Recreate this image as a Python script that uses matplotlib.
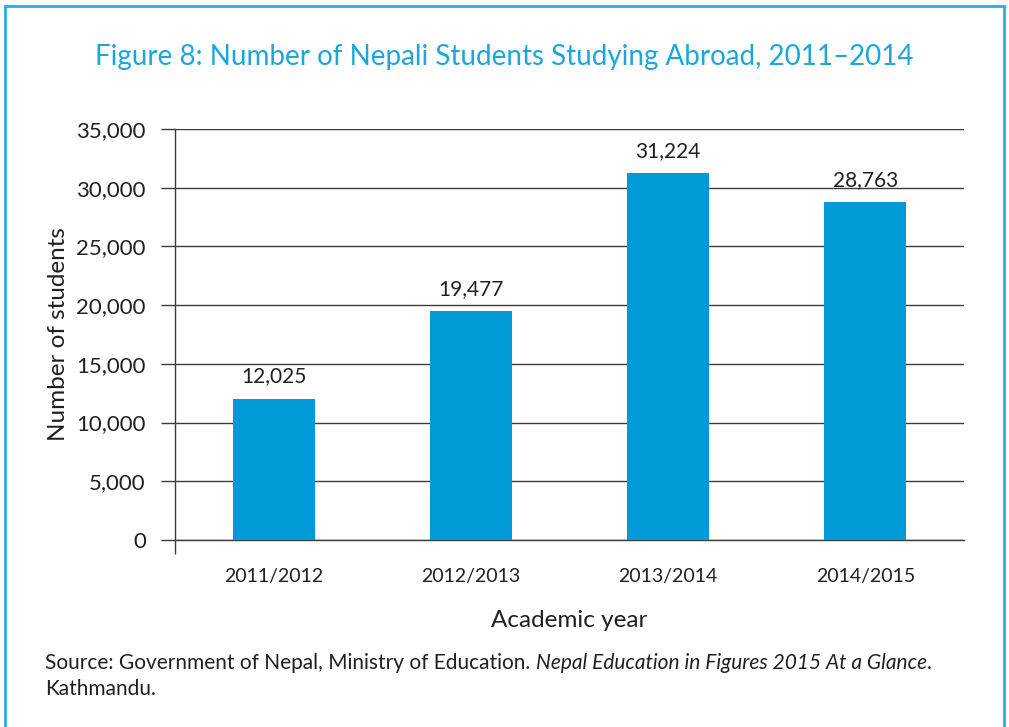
import matplotlib
matplotlib.use("Agg")
import matplotlib.pyplot as plt
from matplotlib.patches import Rectangle

years = ["2011/2012", "2012/2013", "2013/2014", "2014/2015"]
students = [12025, 19477, 31224, 28763]
yticks = [0, 5000, 10000, 15000, 20000, 25000, 30000, 35000]

plt.rcParams['font.family'] = ['Lato', 'DejaVu Sans']
TXT = '#231f20'
GRID = '#3c3c3c'
BAR = '#009ad9'
BLUE = '#1ba6de'

fig = plt.figure(figsize=(10.09, 7.27), dpi=100)
W, H = 1009, 727
ax = fig.add_axes([175 / W, 1 - 540 / H, (964 - 175) / W, (540 - 129) / H])

x = list(range(len(years)))
bars = ax.bar(x, students, width=0.415, color=BAR, zorder=3)
ax.bar_label(bars, labels=[f"{v:,}" for v in students], padding=9,
             fontsize=15, color=TXT)

ax.set_xlim(-0.5, len(years) - 0.5)
ax.set_ylim(0, 35000)
ax.set_yticks(yticks)
ax.set_yticklabels([f"{v:,}" for v in yticks], fontsize=16, color=TXT)
ax.set_xticks(x)
ax.set_xticklabels(years, fontsize=14, color=TXT)
ax.tick_params(axis='x', length=0, pad=20)
ax.tick_params(axis='y', length=10, width=1.0, color=GRID, pad=11)
ax.set_xticks([-0.5], minor=True)
ax.tick_params(axis='x', which='minor', length=10, width=1.0, color=GRID)

ax.grid(axis='y', color=GRID, linewidth=1.0, zorder=1)
for s in ['top', 'right']:
    ax.spines[s].set_visible(False)
ax.spines['left'].set_color(GRID)
ax.spines['bottom'].set_color(GRID)
ax.spines['left'].set_linewidth(1.0)
ax.spines['bottom'].set_linewidth(1.0)
ax.set_axisbelow(True)

ax.set_ylabel("Number of students", fontsize=17.5, color=TXT, labelpad=5)
ax.set_xlabel("Academic year", fontsize=17.5, color=TXT, labelpad=18)

fig.text(0.5, 1 - 57 / H, "Figure 8: Number of Nepali Students Studying Abroad, 2011\u20132014",
         ha='center', va='center', fontsize=20, color=BLUE)

SFS = 15
y1 = 1 - 663 / H
part1 = "Source: Government of Nepal, Ministry of Education. "
part2 = "Nepal Education in Figures 2015 At a Glance"
t1 = fig.text(45 / W, y1, part1, ha='left', va='center', fontsize=SFS, color=TXT)
fig.canvas.draw()
bb = t1.get_window_extent()
t2 = fig.text(bb.x1 / W, y1, part2, ha='left', va='center', fontsize=SFS,
              color=TXT, style='italic')
fig.canvas.draw()
bb2 = t2.get_window_extent()
fig.text(bb2.x1 / W, y1, ".", ha='left', va='center', fontsize=SFS, color=TXT)
fig.text(45 / W, 1 - 689 / H, "Kathmandu.", ha='left', va='center', fontsize=SFS, color=TXT)

fig.patches.append(Rectangle((5 / W, -0.05), (1004 - 5) / W, 1.05 - 6 / H,
                             transform=fig.transFigure, fill=False,
                             edgecolor='#29abe2', linewidth=2.0))

fig.savefig("out.png", dpi=100)
